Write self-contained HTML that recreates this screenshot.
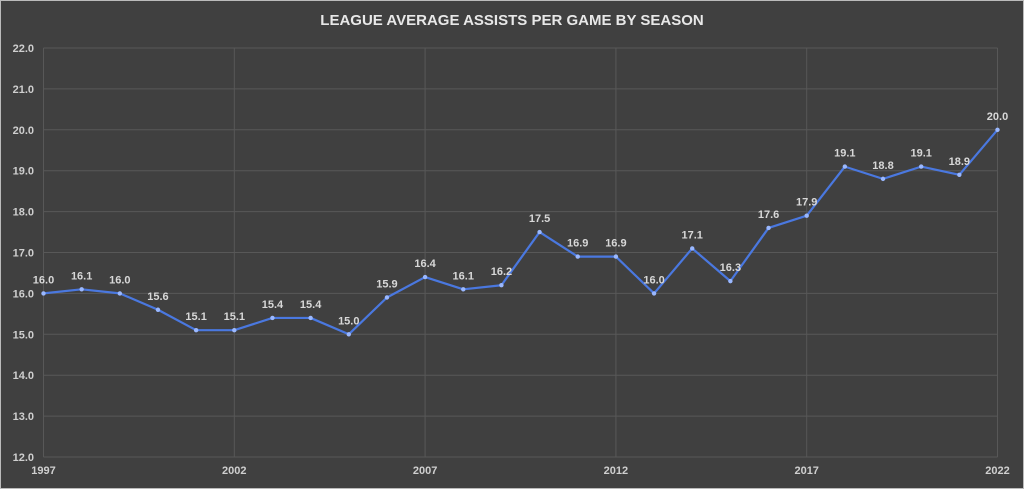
<!DOCTYPE html>
<html><head><meta charset="utf-8"><style>
html,body{margin:0;padding:0;background:#404040;}
svg{display:block;font-family:"Liberation Sans",sans-serif;}
</style></head><body>
<svg id="chart" width="1024" height="489">
<rect x="0.5" y="0.5" width="1023" height="488" fill="#404040" stroke="#bbbbbb"/>
<text x="512" y="25" text-anchor="middle" fill="#e8e8e8" font-size="15" font-weight="bold">LEAGUE AVERAGE ASSISTS PER GAME BY SEASON</text>
<g id="grid"></g><g id="axes"></g><g id="series"></g>
</svg>
<script>
const years=[1997,1998,1999,2000,2001,2002,2003,2004,2005,2006,2007,2008,2009,2010,2011,2012,2013,2014,2015,2016,2017,2018,2019,2020,2021,2022];
const assists=[16.0,16.1,16.0,15.6,15.1,15.1,15.4,15.4,15.0,15.9,16.4,16.1,16.2,17.5,16.9,16.9,16.0,17.1,16.3,17.6,17.9,19.1,18.8,19.1,18.9,20.0];
const yTicks=[12,13,14,15,16,17,18,19,20,21,22];
const xTicks=[1997,2002,2007,2012,2017,2022];
const L=43.5,R=997.5,T=48,B=457;
const xs=y=>L+(y-1997)/(2022-1997)*(R-L);
const ys=v=>B-(v-12)/(22-12)*(B-T);
const NS="http://www.w3.org/2000/svg";
function mk(tag,parent,attrs){const e=document.createElementNS(NS,tag);for(const k in attrs)e.setAttribute(k,attrs[k]);parent.appendChild(e);return e;}
const grid=document.getElementById('grid'),axes=document.getElementById('axes'),ser=document.getElementById('series');
yTicks.forEach(v=>{
 const l=mk('line',grid,{x1:L,x2:R,y1:ys(v),y2:ys(v),stroke:'#585858','stroke-width':1});
 
 
 const t=mk('text',axes,{x:34,y:ys(v)+4,'text-anchor':'end',fill:'#cfcfcf','font-size':11,'font-weight':'bold'});
 t.textContent=v.toFixed(1);
 
 
});
xTicks.forEach(y=>{
 const l=mk('line',grid,{x1:xs(y),x2:xs(y),y1:T,y2:B,stroke:'#585858','stroke-width':1});
 
 
 const t=mk('text',axes,{x:xs(y),y:474,'text-anchor':'middle',fill:'#cfcfcf','font-size':11,'font-weight':'bold'});
 t.textContent=y;
 
 
});
const pts=years.map((y,i)=>xs(y)+','+ys(assists[i])).join(' ');
const pl=mk('polyline',ser,{points:pts,fill:'none',stroke:'#4a78e0','stroke-width':2.2,'stroke-linejoin':'round'});


years.forEach((y,i)=>{
 const c=mk('circle',ser,{cx:xs(y),cy:ys(assists[i]),r:2.2,fill:'#9ab8ff'});
 
 
 const t=mk('text',ser,{x:xs(y),y:ys(assists[i])-10,'text-anchor':'middle',fill:'#d8d8d8','font-size':11,'font-weight':'bold'});
 t.textContent=assists[i].toFixed(1);
 
 
});
</script>
</body></html>
